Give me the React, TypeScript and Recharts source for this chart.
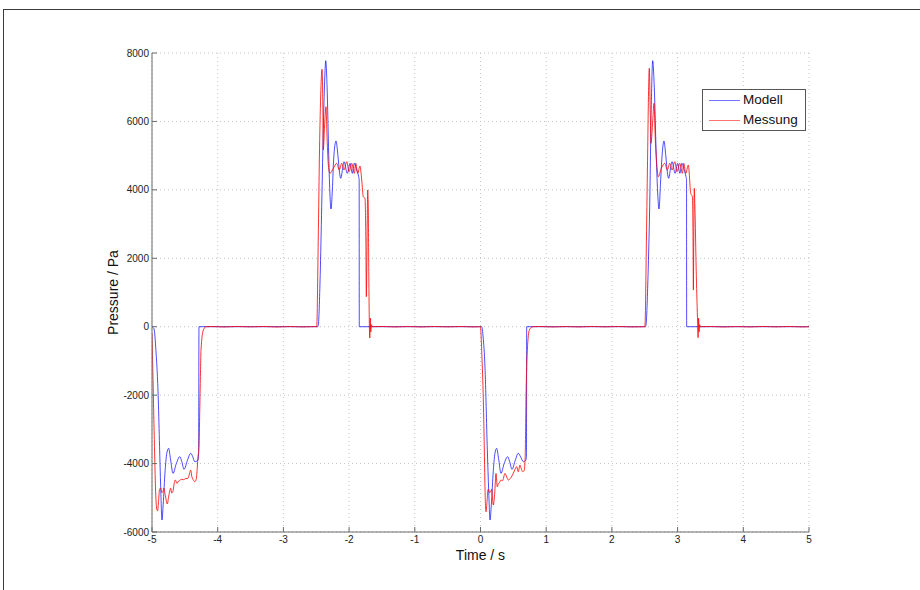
import React from 'react';
import { LineChart, Line, XAxis, YAxis, CartesianGrid, Legend } from 'recharts';

const xTicks = [-5, -4, -3, -2, -1, 0, 1, 2, 3, 4, 5];
const yTicks = [-6000, -4000, -2000, 0, 2000, 4000, 6000, 8000];

const titleText = 'Druck Lunge';
const xLabel = 'Time / s';
const yLabel = 'Pressure / Pa';

const modellT = [
  -5, -4.97, -4.94, -4.904, -4.885, -4.868, -4.848, -4.83, -4.8, -4.775, -4.746, -4.72, -4.68, -4.63, -4.578,
  -4.545, -4.513, -4.46, -4.411, -4.38, -4.35, -4.3, -4.29, -4.285,
  -2.48, -2.469, -2.44, -2.417, -2.39, -2.37, -2.356, -2.335, -2.31, -2.29, -2.275, -2.255, -2.235, -2.199,
  -2.17, -2.145, -2.128, -2.1, -2.078, -2.027, -1.986, -1.951, -1.921, -1.884, -1.854, -1.847, -1.845,
  0.018, 0.04, 0.068, 0.104, 0.125, 0.145, 0.165, 0.195, 0.22, 0.246, 0.275, 0.312, 0.36, 0.414, 0.445,
  0.479, 0.53, 0.575, 0.61, 0.651, 0.692, 0.7, 0.703,
  2.51, 2.519, 2.55, 2.575, 2.6, 2.621, 2.645, 2.675, 2.7, 2.717, 2.74, 2.76, 2.793, 2.82, 2.845, 2.864,
  2.89, 2.915, 2.962, 3.0, 3.035, 3.065, 3.1, 3.128, 3.136, 3.138, 5,
];
const modellP = [
  0, -60, -700, -2140, -3500, -4677, -5650, -5200, -4200, -3700, -3555, -3850, -4286, -4000, -3800,
  -3950, -4170, -3900, -3700, -3800, -3945, -3900, -3700, 0,
  0, 50, 1500, 3507, 6000, 7300, 7775, 7000, 5000, 3800, 3440, 4000, 4900, 5428,
  5000, 4500, 4337, 4600, 4823, 4484, 4776, 4484, 4776, 4580, 4384, 4300, 0,
  0, -300, -1170, -3605, -4800, -5650, -5200, -4200, -3700, -3555, -3850, -4286, -4000, -3800, -3950,
  -4170, -3900, -3700, -3800, -3945, -3900, -3700, 0,
  0, 50, 1500, 3507, 6500, 7775, 7000, 5000, 3800, 3440, 4200, 4900, 5428, 5000, 4500, 4337,
  4600, 4823, 4484, 4776, 4484, 4776, 4580, 4384, 4300, 0, 0,
];

const messungT = [
  -5, -4.985, -4.965, -4.945, -4.925, -4.915, -4.9, -4.885, -4.868, -4.85, -4.833, -4.82, -4.8, -4.767,
  -4.745, -4.716, -4.7, -4.68, -4.66, -4.645, -4.62, -4.6, -4.58, -4.554, -4.52, -4.49, -4.452, -4.43,
  -4.411, -4.393, -4.37, -4.35, -4.33, -4.31, -4.3, -4.285, -4.269, -4.254, -4.219, -4.178,
  -4.1, -3.9, -3.7, -3.5, -3.3, -3.1, -2.9, -2.7, -2.52,
  -2.5, -2.493, -2.47, -2.45, -2.43, -2.412, -2.4, -2.393, -2.375, -2.352, -2.335, -2.315, -2.291,
  -2.24, -2.189, -2.149, -2.113, -2.078, -2.036, -2.001, -1.96, -1.921, -1.899, -1.869, -1.834,
  -1.808, -1.784, -1.758, -1.745, -1.738, -1.725, -1.717, -1.708, -1.7, -1.692, -1.685, -1.677,
  -1.67, -1.662, -1.65,
  -1.5, -1.3, -1.1, -0.9, -0.7, -0.5, -0.3, -0.1,
  0, 0.003, 0.02, 0.043, 0.06, 0.068, 0.084, 0.1, 0.115, 0.125, 0.14, 0.155, 0.17, 0.18, 0.195,
  0.215, 0.236, 0.255, 0.27, 0.29, 0.31, 0.335, 0.373, 0.4, 0.425, 0.46, 0.499, 0.53, 0.551, 0.575,
  0.601, 0.62, 0.642, 0.665, 0.68, 0.692, 0.713, 0.743, 0.794,
  0.9, 1.1, 1.3, 1.5, 1.7, 1.9, 2.1, 2.3,
  2.495, 2.504, 2.525, 2.545, 2.558, 2.569, 2.582, 2.595, 2.618, 2.641, 2.66, 2.685, 2.706, 2.753,
  2.804, 2.844, 2.88, 2.915, 2.957, 2.992, 3.033, 3.072, 3.094, 3.124, 3.163, 3.2, 3.225, 3.235,
  3.24, 3.247, 3.254, 3.262, 3.285, 3.305, 3.312, 3.32, 3.328, 3.335, 3.35,
  3.5, 3.7, 3.9, 4.1, 4.3, 4.5, 4.7, 4.9, 5,
];
const messungP = [
  -200, -1500, -3300, -4800, -5360, -5380, -5100, -4750, -4715, -4850, -4820, -4715, -4900, -5180,
  -4950, -4720, -4860, -4800, -4550, -4480, -4580, -4520, -4500, -4460, -4470, -4440, -4430, -4300,
  -4190, -4385, -4480, -4530, -4480, -4100, -3800, -3500, -2045, -680, -100, 0,
  6, -8, 8, -5, 7, -8, 5, -7, 4,
  0, 0, 2500, 5200, 6900, 7524, 6500, 5165, 5800, 6430, 5500, 4700, 4484,
  4630, 4776, 4580, 4776, 4580, 4823, 4530, 4776, 4484, 4776, 4484, 4697,
  4288, 3800, 3753, 2500, 877, 2800, 3996, 3507, 1500, 100, -330, 250,
  -150, 60, 0,
  8, -7, 6, -8, 7, -5, 7, -7,
  0, -50, -800, -2140, -3800, -4677, -5410, -5100, -4750, -4770, -4850, -4820, -4750, -4950, -5210,
  -4900, -4290, -4677, -4600, -4550, -4480, -4500, -4286, -4400, -4480, -4420, -4286, -4150, -4090, -4238,
  -4045, -4150, -4238, -4200, -3800, -2140, -680, -100, 0,
  7, -8, 5, -7, 8, -5, 7, -7,
  0, 50, 2500, 5200, 6900, 7553, 6500, 5360, 5900, 6530, 5500, 4700, 4384, 4630,
  4776, 4580, 4776, 4580, 4823, 4530, 4776, 4484, 4776, 4484, 4726, 3900, 3800, 2500,
  1072, 2800, 4045, 3600, 1500, 100, -320, 250, -150, 60, 0,
  7, -8, 5, -7, 8, -5, 7, -7, 0,
];

const modellData = modellT.map((t, i) => ({ t, p: modellP[i] }));
const messungData = messungT.map((t, i) => ({ t, p: messungP[i] }));

const FONT = '"Liberation Sans", Arial, Helvetica, sans-serif';
const AXIS = '#6a6a6a';

const LegendBox = () => (
  <div
    style={{
      width: 104,
      height: 42,
      border: '1px solid #555',
      background: '#fff',
      fontFamily: FONT,
      fontSize: 13.5,
      color: '#111',
      position: 'relative',
      boxSizing: 'border-box',
    }}
  >
    {[
      { name: 'Modell', color: '#0000ff', y: 10 },
      { name: 'Messung', color: '#ff0000', y: 30 },
    ].map((it) => (
      <div key={it.name} style={{ position: 'absolute', left: 0, top: it.y - 9, height: 18, width: 104 }}>
        <div style={{ position: 'absolute', left: 6, top: 9, width: 31, height: 1, background: it.color, opacity: 0.55 }} />
        <span style={{ position: 'absolute', left: 40, top: 1, lineHeight: '16px', whiteSpace: 'nowrap' }}>{it.name}</span>
      </div>
    ))}
  </div>
);

export default function App() {
  return (
    <div style={{ position: 'absolute', left: 0, top: 0, width: 920, height: 590, background: '#fff', overflow: 'hidden' }}>
      <div
        style={{
          position: 'absolute',
          left: 3,
          top: 9,
          width: 940,
          height: 600,
          borderLeft: '1px solid #3a3a3a',
          borderTop: '1px solid #3a3a3a',
        }}
      />
      <LineChart
        width={920}
        height={590}
        margin={{ top: 53, right: 111, bottom: 28, left: 92 }}
        style={{ position: 'absolute', left: 0, top: 0, fontFamily: FONT }}
      >
        <CartesianGrid stroke="#c4c4c4" strokeDasharray="1 3" />
        <XAxis
          dataKey="t"
          type="number"
          domain={[-5, 5]}
          ticks={xTicks}
          allowDataOverflow
          height={30}
          stroke={AXIS}
          tickSize={-5}
          tickMargin={9}
          tick={{ fontSize: 10, fill: '#222', fontFamily: FONT }}
          label={{ value: xLabel, position: 'insideBottom', offset: 2, fontSize: 14, fill: '#111', fontFamily: FONT }}
        />
        <XAxis
          xAxisId="top"
          orientation="top"
          dataKey="t"
          type="number"
          domain={[-5, 5]}
          ticks={xTicks}
          allowDataOverflow
          height={0}
          stroke={AXIS}
          tickSize={-5}
          tick={false}
          label={{ value: titleText, position: 'top', offset: 8, fontSize: 13, fill: '#111', fontFamily: FONT }}
        />
        <YAxis
          type="number"
          domain={[-6000, 8000]}
          ticks={yTicks}
          allowDataOverflow
          width={60}
          stroke={AXIS}
          tickSize={-5}
          tickMargin={8}
          tick={{ fontSize: 10, fill: '#222', fontFamily: FONT }}
          label={{
            value: yLabel,
            angle: -90,
            position: 'insideLeft',
            offset: 21,
            fontSize: 14,
            fill: '#111',
            fontFamily: FONT,
            style: { textAnchor: 'middle' },
          }}
        />
        <YAxis
          yAxisId="right"
          orientation="right"
          type="number"
          domain={[-6000, 8000]}
          ticks={yTicks}
          allowDataOverflow
          width={0}
          stroke={AXIS}
          tickSize={-5}
          tick={false}
        />
        <Line
          data={modellData}
          dataKey="p"
          name="Modell"
          type="monotone"
          stroke="#0000ff"
          strokeOpacity={0.7}
          strokeWidth={1}
          dot={false}
          activeDot={false}
          isAnimationActive={false}
        />
        <Line
          data={messungData}
          dataKey="p"
          name="Messung"
          type="monotone"
          stroke="#ff0000"
          strokeOpacity={0.8}
          strokeWidth={1}
          dot={false}
          activeDot={false}
          isAnimationActive={false}
        />
        <Legend
          layout="vertical"
          align="center"
          verticalAlign="middle"
          wrapperStyle={{ left: 702, top: 89, width: 104, height: 42 }}
          content={() => <LegendBox />}
        />
      </LineChart>
    </div>
  );
}
